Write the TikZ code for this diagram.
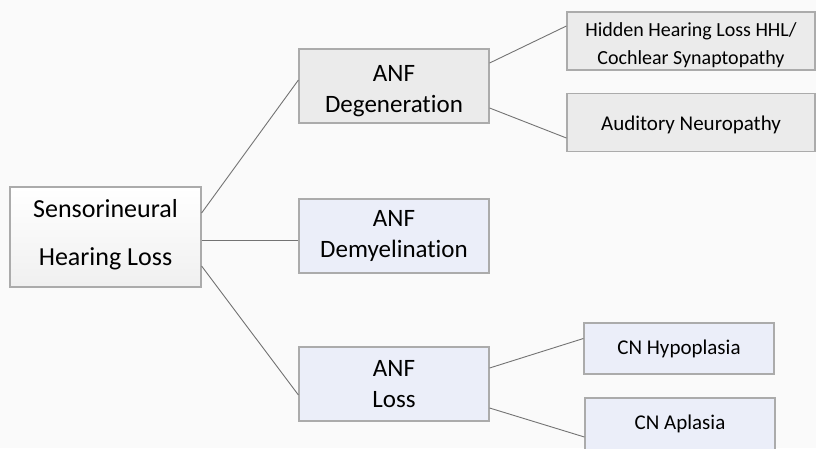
\documentclass[tikz,border=0pt]{standalone}
\usepackage{fontspec}
\setmainfont{Carlito}[Ligatures=NoCommon]
\usepackage{xcolor}
\usepackage{tikz}
\usetikzlibrary{positioning}
\definecolor{boxgray}{HTML}{EBEBEB}
\definecolor{boxblue}{HTML}{EBEEF9}

\begin{document}
\begin{tikzpicture}
[x=1pt, y=-1pt,
    every node/.style={rectangle, draw=black!33, line width=1.2pt,
    align=center, inner sep=0pt},
    rootbox/.style={minimum width=191pt, minimum height=100pt,
    font=\fontsize{26}{48}\selectfont, top color=white, bottom color=black!6},
    midbox/.style={minimum width=190pt, minimum height=74pt,
    font=\fontsize{25}{31}\selectfont},
    leafbox/.style={minimum height=58pt, font=\fontsize{21}{28}\selectfont},
    link/.style={draw=black!55, line width=0.9pt}
    ]

    % background and page size
    \fill[black!2] (0,0) rectangle (816,448);
    \useasboundingbox (0,0) rectangle (816,448);

    \node[rootbox] (snhl) at (105.5,237)
        {Sensorineural\\Hearing Loss\rule[-10pt]{0pt}{0pt}};

    \node[midbox, fill=boxgray] (degen) at (394,86)
        {\rule{0pt}{27pt}ANF\\Degeneration};
    \node[midbox, fill=boxblue] (demyel) at (394,236) {ANF\\Demyelination};
    \node[midbox, fill=boxblue] (anfloss) at (394,384) {ANF\\Loss};

    \node[leafbox, minimum width=248pt, fill=boxgray,
        font=\fontsize{20}{28}\selectfont] (hhl) at (691,41)
        {\rule{0pt}{22pt}Hidden Hearing Loss HHL/\\Cochlear Synaptopathy};
    \node[leafbox, minimum width=248pt, fill=boxgray] (neuro) at (691,122.5)
        {\rule{0pt}{20pt}Auditory Neuropathy};
    \node[leafbox, minimum width=190pt, minimum height=51pt, fill=boxblue] (hypo)
        at (679,348.5) {CN Hypoplasia};
    \node[leafbox, minimum width=190pt, minimum height=52pt, fill=boxblue] (aplas)
        at (680,424) {CN Aplasia};

    % connectors
    \draw[link] ([yshift=24pt]snhl.east) -- ([yshift=6pt]degen.west);
    \draw[link] ([yshift=-3pt]snhl.east) -- ([yshift=-4pt]demyel.west);
    \draw[link] ([yshift=-29pt]snhl.east) -- ([yshift=-11pt]anfloss.west);
    \draw[link] ([yshift=23pt]degen.east) -- ([yshift=15pt]hhl.west);
    \draw[link] ([yshift=-22pt]degen.east) -- ([yshift=-15.5pt]neuro.west);
    \draw[link] ([yshift=16pt]anfloss.east) -- ([yshift=10pt]hypo.west);
    \draw[link] ([yshift=-24pt]anfloss.east) -- ([yshift=-13pt]aplas.west);
\end{tikzpicture}
\end{document}
